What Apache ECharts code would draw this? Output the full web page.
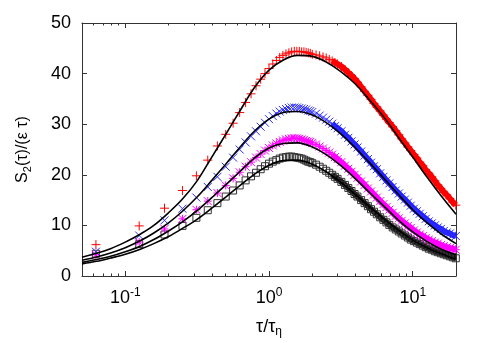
<!DOCTYPE html>
<html>
<head>
<meta charset="utf-8">
<script src="https://cdn.jsdelivr.net/npm/echarts@6/dist/echarts.min.js"></script>
<style>
html,body{margin:0;padding:0;background:#fff;}
#chart{width:491px;height:343px;}
</style>
</head>
<body>
<div id="chart"></div>
<script>
// ---------- data ----------
const tau = [0.0625, 0.125, 0.1875, 0.25, 0.3125, 0.375, 0.4375, 0.5, 0.5625, 0.625, 0.6875, 0.75, 0.8125, 0.875, 0.9375, 1.0,
  1.0625, 1.125, 1.1875, 1.25, 1.3125, 1.375, 1.4375, 1.5, 1.5625, 1.625, 1.6875, 1.75, 1.8125, 1.875, 1.9375, 2.0,
  2.125, 2.25, 2.375, 2.5, 2.625, 2.75, 2.875, 3.0, 3.1875, 3.375, 3.5625, 3.75, 3.9375, 4.125, 4.375, 4.625, 4.875,
  5.125, 5.375, 5.625, 5.9375, 6.25, 6.5625, 6.875, 7.25, 7.625, 8.0, 8.375, 8.8125, 9.25, 9.6875, 10.1875, 10.6875,
  11.1875, 11.75, 12.3125, 12.9375, 13.5625, 14.25, 14.9375, 15.6875, 16.4375, 17.25, 18.125, 19.0, 19.9375];

const redPlus = [6.2, 9.9, 13.4, 16.9, 19.8, 22.9, 25.7, 28.0, 30.2, 32.3, 34.3, 36.0, 37.6, 38.9, 40.0, 41.0,
  41.9, 42.6, 43.2, 43.6, 43.9, 44.1, 44.3, 44.4, 44.4, 44.4, 44.3, 44.3, 44.2, 44.1, 44.0, 43.8,
  43.7, 43.5, 43.3, 43.1, 42.8, 42.5, 42.2, 41.9, 41.4, 40.8, 40.2, 39.6, 39.0, 38.3, 37.4, 36.5, 35.7,
  34.9, 34.1, 33.4, 32.6, 31.8, 31.0, 30.3, 29.5, 28.7, 27.9, 27.1, 26.3, 25.5, 24.8, 24.0, 23.3,
  22.5, 21.8, 21.0, 20.3, 19.6, 18.8, 18.0, 17.3, 16.6, 16.0, 15.3, 14.6, 14.0];

const blueCross = [4.8, 8.0, 11.0, 13.3, 15.5, 17.6, 19.6, 21.6, 23.4, 25.0, 26.4, 27.6, 28.6, 29.5, 30.3, 31.0,
  31.6, 32.1, 32.5, 32.8, 33.0, 33.2, 33.3, 33.3, 33.3, 33.2, 33.1, 33.0, 32.9, 32.7, 32.6, 32.4,
  32.1, 31.7, 31.3, 30.9, 30.5, 30.1, 29.6, 29.2, 28.6, 27.9, 27.3, 26.6, 26.0, 25.4, 24.6, 23.8, 23.1,
  22.4, 21.7, 21.1, 20.3, 19.6, 18.9, 18.3, 17.6, 16.9, 16.3, 15.7, 15.1, 14.5, 13.9, 13.3, 12.8,
  12.3, 11.8, 11.3, 10.8, 10.4, 10.0, 9.6, 9.3, 8.9, 8.6, 8.4, 8.1, 7.9];

const magentaStar = [4.2, 6.7, 9.3, 11.3, 13.1, 14.8, 16.4, 17.9, 19.3, 20.5, 21.6, 22.5, 23.4, 24.1, 24.8, 25.3,
  25.8, 26.2, 26.5, 26.8, 27.0, 27.1, 27.2, 27.2, 27.2, 27.1, 27.0, 26.9, 26.7, 26.6, 26.5, 26.3,
  26.0, 25.6, 25.2, 24.8, 24.4, 24.0, 23.5, 23.1, 22.5, 21.8, 21.2, 20.6, 20.0, 19.4, 18.7, 18.0, 17.3,
  16.7, 16.1, 15.5, 14.8, 14.2, 13.6, 13.1, 12.5, 11.9, 11.4, 10.9, 10.4, 9.9, 9.5, 9.0, 8.6,
  8.2, 7.9, 7.5, 7.2, 6.9, 6.6, 6.4, 6.1, 5.9, 5.7, 5.5, 5.4, 5.2];

const blackSquare = [4.4, 6.3, 8.2, 9.9, 11.5, 13.0, 14.4, 15.7, 16.9, 17.9, 18.9, 19.7, 20.4, 21.1, 21.7, 22.2,
  22.6, 22.9, 23.2, 23.4, 23.5, 23.6, 23.6, 23.5, 23.4, 23.3, 23.2, 23.0, 22.8, 22.6, 22.5, 22.3,
  22.0, 21.6, 21.2, 20.8, 20.4, 20.0, 19.6, 19.2, 18.6, 18.0, 17.4, 16.8, 16.2, 15.7, 15.0, 14.4, 13.8,
  13.2, 12.7, 12.2, 11.6, 11.1, 10.6, 10.1, 9.6, 9.2, 8.8, 8.4, 8.0, 7.6, 7.2, 6.9, 6.6,
  6.3, 6.0, 5.7, 5.4, 5.2, 4.9, 4.7, 4.5, 4.3, 4.1, 3.9, 3.7, 3.5];

// fitted model curves (black lines)
const fitTau = [0.05, 0.063, 0.079, 0.1, 0.126, 0.158, 0.2, 0.25, 0.316, 0.4, 0.5, 0.63, 0.79, 1.0,
  1.26, 1.58, 2.0, 2.5, 3.16, 4.0, 5.0, 6.3, 7.9, 10, 12.6, 15.8, 20];
const fitRed = [3.7, 4.5, 5.4, 6.7, 8.2, 10.0, 12.5, 15.2, 18.8, 23.5, 28.0, 32.7, 37.2, 40.7,
  42.7, 43.6, 43.4, 42.3, 40.4, 37.9, 34.8, 31.4, 27.5, 23.5, 19.5, 15.8, 12.2];
const fitBlue = [3.1, 3.75, 4.55, 5.6, 6.9, 8.5, 10.5, 12.8, 15.6, 18.9, 22.1, 25.5, 28.6, 31.0,
  32.3, 32.5, 31.8, 30.3, 28.1, 25.3, 22.4, 19.3, 16.2, 13.1, 10.5, 8.3, 6.4];
const fitMagenta = [2.7, 3.25, 3.9, 4.8, 5.85, 7.2, 8.9, 10.7, 12.9, 15.5, 18.0, 20.7, 23.3, 25.3,
  26.2, 26.3, 25.5, 24.0, 21.8, 19.2, 16.5, 13.8, 11.1, 8.7, 6.8, 5.3, 4.2];
const fitBlack = [2.4, 2.9, 3.55, 4.3, 5.25, 6.4, 7.8, 9.4, 11.2, 13.4, 15.6, 17.9, 20.1, 21.9,
  22.8, 22.9, 22.1, 20.6, 18.5, 16.1, 13.7, 11.3, 9.1, 7.1, 5.6, 4.4, 3.3];

const xMin = 0.05, xMax = 20;
const majorTicks = [0.1, 1, 10];
const minorTicks = [0.06, 0.07, 0.08, 0.09, 0.2, 0.3, 0.4, 0.5, 0.6, 0.7, 0.8, 0.9, 2, 3, 4, 5, 6, 7, 8, 9];
const denseFrom = 2.75; // beyond this the reference markers overlap into a solid band

// ---------- chart ----------
const L = Math.log10;
const FONT = 'Liberation Sans';
const AX = '#333';
const pts = (xs, ys) => xs.map((t, i) => [L(t), ys[i]]);
const densePts = ys => pts(tau, ys).filter((p, i) => tau[i] >= denseFrom);

function xAxisDef(pos, ticks, len, showLine, showLabel) {
  return {
    type: 'value', position: pos, min: L(xMin), max: L(xMax),
    axisLine: { show: showLine, onZero: false, lineStyle: { color: AX, width: 1 } },
    axisTick: { show: true, inside: true, length: len, customValues: ticks.map(L), lineStyle: { color: AX, width: 1 } },
    axisLabel: showLabel ? {
      show: true, customValues: majorTicks.map(L), margin: 11,
      formatter: v => '{b|10}{s|' + Math.round(v) + '}',
      rich: {
        b: { fontFamily: FONT, fontSize: 18, color: '#000' },
        s: { fontFamily: FONT, fontSize: 12, color: '#000', padding: [0, 0, 11, 0] }
      }
    } : { show: false },
    splitLine: { show: false }
  };
}

const chart = echarts.init(document.getElementById('chart'), null, { renderer: 'canvas' });
const symPlus = 'path://M5,0 L5,10 M0,5 L10,5';
const symCross = 'path://M0,0 L10,10 M0,10 L10,0';
const symStar = 'path://M0,0 L10,10 M0,10 L10,0 M5,0 L5,10 M0,5 L10,5';
const symSquare = 'path://M0,0 L10,0 L10,10 L0,10 Z';

function scatter(name, ys, sym, size, color) {
  return {
    name, type: 'scatter', xAxisIndex: 0, yAxisIndex: 0,
    data: pts(tau, ys), symbol: sym, symbolSize: size, silent: true, z: 3,
    itemStyle: { color: 'rgba(0,0,0,0)', borderColor: color, borderWidth: 1, opacity: 1 }
  };
}
function band(name, ys, color, w) {
  return {
    name: name + 'Band', type: 'line', xAxisIndex: 0, yAxisIndex: 0, data: densePts(ys),
    showSymbol: false, smooth: 0.3, silent: true, z: 2,
    lineStyle: { color, width: w, opacity: 1 }
  };
}
function fit(name, ys) {
  return {
    name, type: 'line', xAxisIndex: 0, yAxisIndex: 0, data: pts(fitTau, ys),
    showSymbol: false, smooth: 0.35, silent: true, z: 5,
    lineStyle: { color: '#000', width: 1.6 }
  };
}

chart.setOption({
  animation: false,
  backgroundColor: '#fff',
  grid: { left: 82, right: 35, top: 23, bottom: 62, containLabel: false },
  xAxis: [
    Object.assign(xAxisDef('bottom', majorTicks, 5, true, true), {
      name: '{a|τ/τ}{sub|η}', nameLocation: 'middle', nameGap: 40,
      nameTextStyle: { rich: {
        a: { fontFamily: FONT, fontSize: 18, color: '#000' },
        sub: { fontFamily: FONT, fontSize: 12, color: '#000', padding: [10, 0, 0, 0] } } }
    }),
    xAxisDef('bottom', minorTicks, 2.5, false, false),
    xAxisDef('top', majorTicks, 5, true, false),
    xAxisDef('top', minorTicks, 2.5, false, false)
  ],
  yAxis: [
    {
      type: 'value', position: 'left', min: 0, max: 50, interval: 10,
      axisLine: { show: true, onZero: false, lineStyle: { color: AX, width: 1 } },
      axisTick: { show: true, inside: true, length: 5, lineStyle: { color: AX } },
      axisLabel: { fontFamily: FONT, fontSize: 18, color: '#000', margin: 11 },
      splitLine: { show: false },
      name: '{a|S}{sub|2}{a|(τ)/(ε τ)}', nameLocation: 'middle', nameGap: 49, nameRotate: 90,
      nameTextStyle: { rich: {
        a: { fontFamily: FONT, fontSize: 16, color: '#000' },
        sub: { fontFamily: FONT, fontSize: 11, color: '#000', padding: [9, 0, 0, 0] } } }
    },
    {
      type: 'value', position: 'right', min: 0, max: 50, interval: 10,
      axisLine: { show: true, onZero: false, lineStyle: { color: AX, width: 1 } },
      axisTick: { show: true, inside: true, length: 5, lineStyle: { color: AX } },
      axisLabel: { show: false }, splitLine: { show: false }
    }
  ],
  series: [
    band('black', blackSquare, '#111', 6),
    band('magenta', magentaStar, '#ff00ff', 6),
    band('blue', blueCross, '#2020ff', 6),
    band('red', redPlus, '#ff0000', 6),
    scatter('black', blackSquare, symSquare, 7, '#333'),
    scatter('magenta', magentaStar, symStar, 8, '#ff00ff'),
    scatter('blue', blueCross, symCross, 8, '#2a2aff'),
    scatter('red', redPlus, symPlus, 9, '#ff0000'),
    fit('fitRed', fitRed),
    fit('fitBlue', fitBlue),
    fit('fitMagenta', fitMagenta),
    fit('fitBlack', fitBlack)
  ]
});
</script>
</body>
</html>
